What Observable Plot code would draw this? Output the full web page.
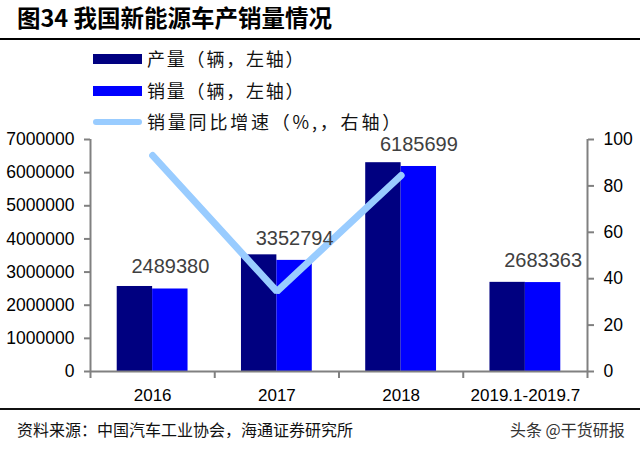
<!DOCTYPE html>
<html>
<head>
<meta charset="utf-8">
<script src="https://cdn.jsdelivr.net/npm/d3@7"></script>
<script src="https://cdn.jsdelivr.net/npm/@observablehq/plot@0.6"></script>
<style>
  html, body { margin: 0; padding: 0; background: #fff; }
  #wrap { position: relative; width: 640px; height: 451px; overflow: hidden; font-family: "Noto Sans CJK SC", sans-serif; }
  .abs { position: absolute; white-space: nowrap; }
  #title { left: 17px; top: 2px; font-size: 23.5px; font-weight: bold; color: #000; line-height: 30px; }
  #tline { left: 0; top: 38px; width: 640px; height: 2px; background: #000; }
  .sw { position: absolute; }
  .lg { position: absolute; font-size: 18px; color: #111; line-height: 22px; white-space: nowrap; }
  #chart { left: 0; top: 128px; }
  #bline { left: 0; top: 408px; width: 640px; height: 2px; background: #111; }
  #caption { left: 17px; top: 418px; font-size: 16px; color: #111; line-height: 22px; }
  #wm { left: 510px; top: 418px; font-size: 16px; color: #333; line-height: 22px; }
</style>
</head>
<body>
<div id="wrap">
  <div id="title" class="abs">图34 我国新能源车产销量情况</div>
  <div id="tline" class="abs"></div>
  <div id="legend"></div>
  <div id="chart" class="abs"></div>
  <div id="bline" class="abs"></div>
  <div id="caption" class="abs">资料来源：中国汽车工业协会，海通证券研究所</div>
  <div id="wm" class="abs">头条 @干货研报</div>
</div>
<script>
// ---- data ----
const categories = ["2016", "2017", "2018", "2019.1-2019.7"];
const production = [2565000, 3520000, 6300000, 2690000];
const sales = [2489380, 3352794, 6185699, 2683363];
const salesGrowth = [93.1, 34.5, 84.5, null];
const leftTicks = [0, 1000000, 2000000, 3000000, 4000000, 5000000, 6000000, 7000000];
const rightTicks = [0, 20, 40, 60, 80, 100];
const seriesNames = ["产量（辆，左轴）", "销量（辆，左轴）", "销量同比增速（%,，右轴）"];
const colors = ["#000080", "#0000FF", "#99CCFF"];

// ---- legend (HTML) ----
const legend = document.getElementById("legend");
const legendRows = [
  {top: 54, h: 10, type: "bar", ls: 1.8},
  {top: 86, h: 10, type: "bar", ls: 1.8},
  {top: 119, h: 6, type: "line", ls: 2.8}
];
legendRows.forEach((r, i) => {
  const sw = document.createElement("div");
  sw.className = "sw";
  sw.style.left = "93px";
  sw.style.top = r.top + "px";
  sw.style.width = "49px";
  sw.style.height = r.h + "px";
  sw.style.background = colors[i];
  if (r.type === "line") sw.style.borderRadius = "3px";
  legend.appendChild(sw);
  const t = document.createElement("div");
  t.className = "lg";
  t.style.left = "147px";
  t.style.top = (r.top + r.h / 2 - 12) + "px";
  t.style.letterSpacing = r.ls + "px";
  t.textContent = seriesNames[i];
  legend.appendChild(t);
});

// ---- chart ----
const rows = categories.map((c, i) => ({i, c, p: production[i], s: sales[i], g: salesGrowth[i]}));
const leftMax = 7000000, rightMax = 100;
const k = leftMax / rightMax; // right axis mapped onto left scale
const barW = 0.285;
const axisColor = "#808080";
const numFont = "Liberation Sans, Arial, sans-serif";

const chart = Plot.plot({
  width: 640,
  height: 284,
  marginLeft: 90,
  marginRight: 53,
  marginTop: 11,
  marginBottom: 41,
  style: {fontFamily: numFont, background: "transparent", overflow: "visible"},
  x: {type: "linear", domain: [0, categories.length], axis: null},
  y: {domain: [0, leftMax], axis: null},
  marks: [
    Plot.rectY(rows, {x1: d => d.i + 0.5 - barW, x2: d => d.i + 0.5, y1: 0, y2: "p", fill: colors[0]}),
    Plot.rectY(rows, {x1: d => d.i + 0.5, x2: d => d.i + 0.5 + barW, y1: 0, y2: "s", fill: colors[1]}),
    Plot.line(rows.filter(d => d.g != null), {x: d => d.i + 0.5, y: d => d.g * k, stroke: colors[2], strokeWidth: 7, strokeLinecap: "round", strokeLinejoin: "miter"}),
    Plot.text(rows, {x: d => d.i + 0.5 + barW / 2, y: "s", text: d => String(d.s), dy: -22, fontSize: 20, fill: "#404040", fontFamily: numFont}),
    // axes lines
    Plot.ruleX([0, categories.length], {y1: 0, y2: leftMax, stroke: axisColor, strokeWidth: 2}),
    Plot.ruleY([0], {stroke: axisColor, strokeWidth: 2}),
    Plot.axisY({anchor: "left", ticks: leftTicks, tickFormat: d => String(d), tickSize: 6, tickPadding: 10, fontSize: 17.5, stroke: axisColor, strokeWidth: 2, fill: "#000", label: null}),
    Plot.axisY({anchor: "right", ticks: rightTicks.map(t => t * k), tickFormat: d => String(Math.round(d / k)), tickSize: 6, tickPadding: 10, fontSize: 17.5, stroke: axisColor, strokeWidth: 2, fill: "#000", label: null}),
    Plot.axisX({anchor: "bottom", ticks: d3.range(categories.length + 1), tickFormat: () => "", tickSize: 7, stroke: axisColor, strokeWidth: 2, label: null}),
    Plot.axisX({anchor: "bottom", ticks: categories.map((c, i) => i + 0.5), tickFormat: d => categories[Math.floor(d)], tickSize: 0, tickPadding: 17, fontSize: 17, fill: "#000", label: null})
  ]
});
document.getElementById("chart").appendChild(chart);
</script>
</body>
</html>
